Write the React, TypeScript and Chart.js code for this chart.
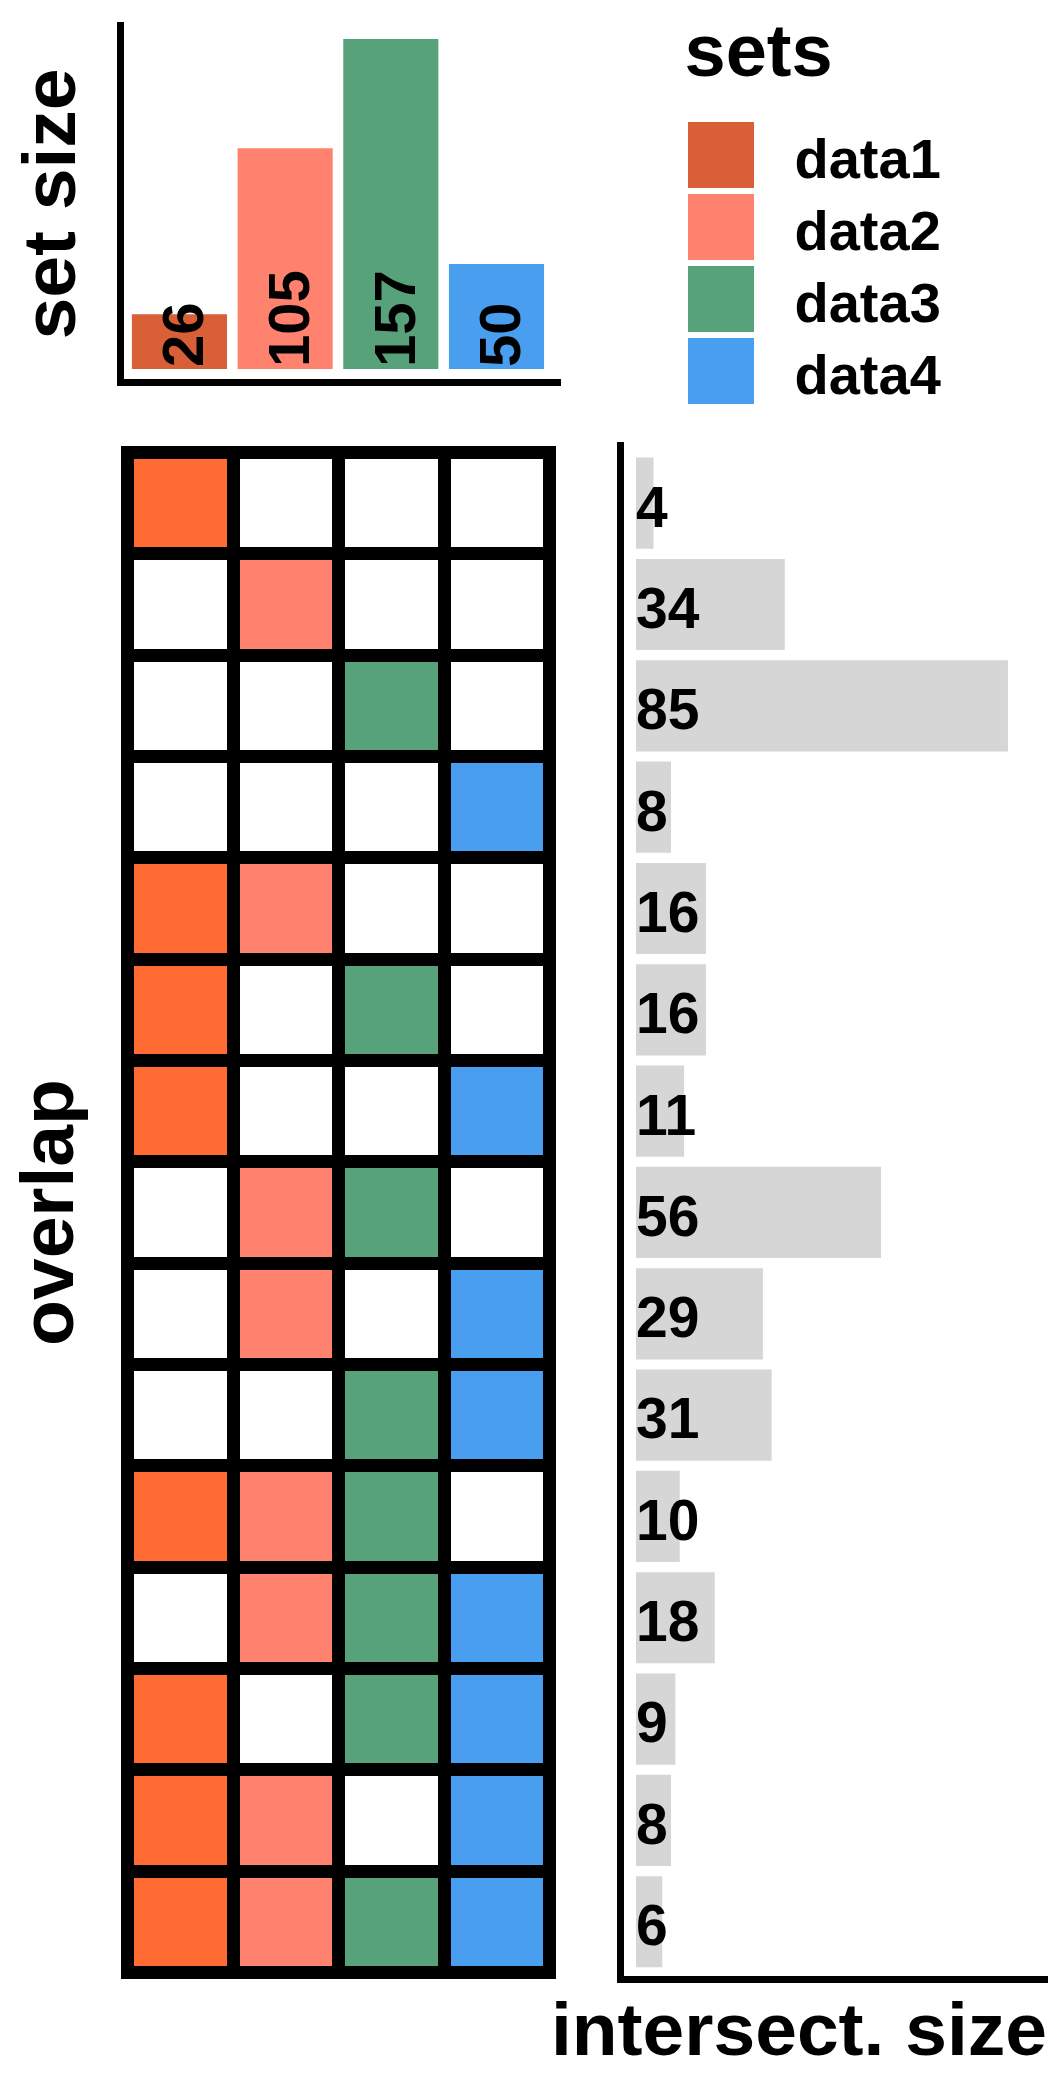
import React, { useEffect, useRef } from 'react';
import { Chart, registerables } from 'chart.js';

Chart.register(...registerables);

const FONT = '"Liberation Sans", Arial, Helvetica, sans-serif';
Chart.defaults.font.family = FONT;
Chart.defaults.color = '#000000';

// ---------- data ----------
const setNames = ['data1', 'data2', 'data3', 'data4'];
const setSizes = [26, 105, 157, 50];
const setColors = ['#D95F37', '#FF826E', '#57A27A', '#4A9EF0'];
const matrixColors = ['#FF6B33', '#FF826E', '#57A27A', '#4A9EF0'];
const emptyCell = '#FFFFFF';
const barGray = '#D6D6D6';

// membership of each intersection row (indices into setNames)
const intersectionMembers = [
  [0], [1], [2], [3],
  [0, 1], [0, 2], [0, 3], [1, 2], [1, 3], [2, 3],
  [0, 1, 2], [1, 2, 3], [0, 2, 3], [0, 1, 3],
  [0, 1, 2, 3],
];
const intersectionSizes = [4, 34, 85, 8, 16, 16, 11, 56, 29, 31, 10, 18, 9, 8, 6];
const intersectionLabels = intersectionMembers.map((m) => m.map((i) => setNames[i]).join(' & '));

// ---------- plugins ----------
const verticalValueLabels = {
  id: 'verticalValueLabels',
  afterDatasetsDraw(chart: any, _args: any, opts: any) {
    const { ctx } = chart;
    const meta = chart.getDatasetMeta(0);
    const values = chart.data.datasets[0].data;
    ctx.save();
    ctx.font = `bold ${opts.size}px ${FONT}`;
    ctx.fillStyle = '#000000';
    ctx.textAlign = 'left';
    ctx.textBaseline = 'alphabetic';
    meta.data.forEach((bar: any, i: number) => {
      const { x, base } = bar.getProps(['x', 'base'], true);
      ctx.save();
      ctx.translate(x + opts.size * 0.41, base - opts.gap);
      ctx.rotate(-Math.PI / 2);
      ctx.fillText(String(values[i].y), 0, 0);
      ctx.restore();
    });
    ctx.restore();
  },
};

const horizontalValueLabels = {
  id: 'horizontalValueLabels',
  afterDatasetsDraw(chart: any, _args: any, opts: any) {
    const { ctx } = chart;
    const meta = chart.getDatasetMeta(0);
    const values = chart.data.datasets[0].data;
    ctx.save();
    ctx.font = `bold ${opts.size}px ${FONT}`;
    ctx.fillStyle = '#000000';
    ctx.textAlign = 'left';
    ctx.textBaseline = 'alphabetic';
    meta.data.forEach((bar: any, i: number) => {
      const { y, base } = bar.getProps(['y', 'base'], true);
      ctx.fillText(String(values[i].x), base + opts.gap, y + opts.size * 0.41);
    });
    ctx.restore();
  },
};

const setLegend = {
  id: 'setLegend',
  afterDraw(chart: any, _args: any, opts: any) {
    const { ctx } = chart;
    ctx.save();
    ctx.textAlign = 'left';
    ctx.textBaseline = 'alphabetic';
    ctx.fillStyle = '#000000';
    ctx.font = `bold ${opts.titleSize}px ${FONT}`;
    ctx.fillText(opts.title, opts.titleX, opts.titleBaseline);
    ctx.font = `bold ${opts.labelSize}px ${FONT}`;
    setNames.forEach((name, i) => {
      const top = opts.top + i * opts.pitch;
      ctx.fillStyle = setColors[i];
      ctx.fillRect(opts.x, top, opts.box, opts.box);
      ctx.fillStyle = '#000000';
      ctx.fillText(name, opts.labelX, top + opts.labelBaseline);
    });
    ctx.restore();
  },
};

const chartAreaFrame = {
  id: 'chartAreaFrame',
  afterDraw(chart: any, _args: any, opts: any) {
    const { ctx, chartArea } = chart;
    ctx.save();
    ctx.strokeStyle = opts.color;
    ctx.lineWidth = opts.width;
    ctx.strokeRect(chartArea.left, chartArea.top, chartArea.width, chartArea.height);
    ctx.restore();
  },
};

const titleFont = { size: 75, weight: 'bold' as const };

// ---------- configs ----------
function setSizeConfig(): any {
  return {
    type: 'bar',
    data: {
      datasets: [
        {
          label: 'set size',
          data: setSizes.map((v, i) => ({ x: i, y: v })),
          backgroundColor: setColors,
          barPercentage: 0.9,
          categoryPercentage: 1,
          borderWidth: 0,
        },
      ],
    },
    options: {
      responsive: false,
      animation: false,
      events: [],
      layout: { padding: { left: 9, right: 490, top: 25.5, bottom: 37.5 } },
      plugins: {
        legend: { display: false },
        tooltip: { enabled: false },
        verticalValueLabels: { size: 58, gap: 2 },
        setLegend: {
          title: 'sets',
          titleSize: 74,
          titleX: 684.5,
          titleBaseline: 76,
          x: 688,
          top: 122,
          pitch: 72,
          box: 66,
          labelSize: 56,
          labelX: 794.5,
          labelBaseline: 55.7,
        },
      },
      scales: {
        x: {
          type: 'linear',
          offset: false,
          min: -0.558,
          max: 3.601,
          ticks: { display: false },
          grid: { display: false, drawTicks: false, offset: false },
          border: { display: true, color: '#000000', width: 7 },
          afterBuildTicks: (scale: any) => {
            scale.ticks = setSizes.map((_, i) => ({ value: i }));
          },
        },
        y: {
          type: 'linear',
          min: -6.42,
          max: 163.4,
          ticks: { display: false },
          grid: { display: false, drawTicks: false },
          border: { display: true, color: '#000000', width: 7 },
          title: {
            display: true,
            text: 'set size',
            color: '#000000',
            font: titleFont,
            padding: { top: 0, bottom: 21.5 },
          },
        },
      },
    },
    plugins: [verticalValueLabels, setLegend],
  };
}

function matrixConfig(): any {
  return {
    type: 'bar',
    data: {
      labels: intersectionLabels,
      datasets: setNames.map((name, j) => ({
        label: name,
        data: intersectionMembers.map(() => [j, j + 1]),
        backgroundColor: intersectionMembers.map((m) => (m.includes(j) ? matrixColors[j] : emptyCell)),
        barPercentage: 1,
        categoryPercentage: 1,
        grouped: false,
        borderWidth: 0,
      })),
    },
    options: {
      indexAxis: 'y',
      responsive: false,
      animation: false,
      events: [],
      layout: { padding: { left: 7.3, right: 50.5, top: 52.5, bottom: 47.5 } },
      plugins: {
        legend: { display: false },
        tooltip: { enabled: false },
        chartAreaFrame: { color: '#000000', width: 13 },
      },
      scales: {
        x: {
          type: 'linear',
          min: 0,
          max: setNames.length,
          ticks: { display: false, stepSize: 1 },
          grid: { color: '#000000', lineWidth: 13, drawTicks: false, z: 1 },
          border: { display: false },
        },
        y: {
          type: 'category',
          offset: true,
          ticks: { display: false },
          grid: { color: '#000000', lineWidth: 13, drawTicks: false, offset: true, z: 1 },
          border: { display: false },
          title: {
            display: true,
            text: 'overlap',
            color: '#000000',
            font: titleFont,
            padding: { top: 0, bottom: 30.2 },
          },
        },
      },
    },
    plugins: [chartAreaFrame],
  };
}

function intersectConfig(): any {
  return {
    type: 'bar',
    data: {
      datasets: [
        {
          label: 'intersect. size',
          data: intersectionSizes.map((v, i) => ({ x: v, y: i })),
          backgroundColor: barGray,
          barPercentage: 0.9,
          categoryPercentage: 1,
          borderWidth: 0,
        },
      ],
    },
    options: {
      indexAxis: 'y',
      responsive: false,
      animation: false,
      events: [],
      layout: { padding: { left: 0, right: 3, top: 45.5, bottom: 0 } },
      plugins: {
        legend: { display: false },
        tooltip: { enabled: false },
        horizontalValueLabels: { size: 57, gap: 0 },
        title: {
          display: true,
          text: 'intersect. size',
          position: 'bottom',
          align: 'end',
          color: '#000000',
          font: titleFont,
          padding: { top: 10.4, bottom: 20.3 },
        },
      },
      scales: {
        x: {
          type: 'linear',
          min: -3.542,
          max: 93.92,
          ticks: { display: false },
          grid: { display: false, drawTicks: false },
          border: { display: true, color: '#000000', width: 7, dash: [410, 3000] },
        },
        y: {
          type: 'linear',
          reverse: true,
          offset: false,
          min: -0.5694,
          max: 14.568,
          ticks: { display: false },
          grid: { display: false, drawTicks: false, offset: false },
          border: { display: true, color: '#000000', width: 7 },
          afterBuildTicks: (scale: any) => {
            scale.ticks = intersectionSizes.map((_, i) => ({ value: i }));
          },
          afterFit: (scale: any) => {
            scale.width = 80.5;
          },
        },
      },
    },
    plugins: [horizontalValueLabels],
  };
}

// ---------- components ----------
function ChartBox(props: { left: number; top: number; width: number; height: number; makeConfig: () => any }) {
  const { left, top, width, height, makeConfig } = props;
  const ref = useRef<HTMLCanvasElement | null>(null);
  useEffect(() => {
    if (!ref.current) return;
    const chart = new Chart(ref.current, makeConfig());
    return () => chart.destroy();
  }, [makeConfig]);
  return (
    <canvas
      ref={ref}
      width={width}
      height={height}
      style={{ position: 'absolute', left, top, width, height, display: 'block' }}
    />
  );
}

export default function App() {
  return (
    <div
      style={{
        position: 'absolute',
        left: 0,
        top: 0,
        width: 1050,
        height: 2100,
        background: '#ffffff',
        overflow: 'hidden',
      }}
    >
      <ChartBox left={0} top={0} width={1050} height={420} makeConfig={setSizeConfig} />
      <ChartBox left={0} top={400} width={600} height={1620} makeConfig={matrixConfig} />
      <ChartBox left={540} top={400} width={510} height={1700} makeConfig={intersectConfig} />
    </div>
  );
}
